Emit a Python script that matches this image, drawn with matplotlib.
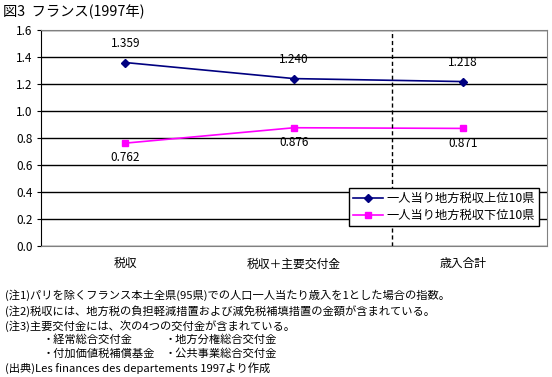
import matplotlib
matplotlib.use("Agg")
import matplotlib.pyplot as plt

plt.rcParams["font.family"] = ["Noto Sans CJK JP", "DejaVu Sans"]
plt.rcParams["axes.unicode_minus"] = False

# ---- データ ----
categories = ["税収", "税収＋主要交付金", "歳入合計"]
top10 = [1.359, 1.240, 1.218]
bottom10 = [0.762, 0.876, 0.871]
series_names = ["一人当り地方税収上位10県", "一人当り地方税収下位10県"]
yticks = [0.0, 0.2, 0.4, 0.6, 0.8, 1.0, 1.2, 1.4, 1.6]
divider_pos = 1.58

title = "図3  フランス(1997年)"
notes = [
    "(注1)パリを除くフランス本土全県(95県)での人口一人当たり歳入を1とした場合の指数。",
    "(注2)税収には、地方税の負担軽減措置および減免税補填措置の金額が含まれている。",
    "(注3)主要交付金には、次の4つの交付金が含まれている。",
]
grants_left = ["・経常総合交付金", "・付加価値税補償基金"]
grants_right = ["・地方分権総合交付金", "・公共事業総合交付金"]
source = "(出典)Les finances des departements 1997より作成"

BLUE, MAG = "#000080", "#ff00ff"
FS = 8.5
NFS = 8.1

fig = plt.figure(figsize=(5.52, 3.77), dpi=100)
W, H = 552, 377
ax = fig.add_axes([41 / W, 1 - 246 / H, 506 / W, 216 / H])

x = range(len(categories))
ax.plot(x, top10, color=BLUE, lw=1.2, marker="D", ms=4, label=series_names[0])
ax.plot(x, bottom10, color=MAG, lw=1.2, marker="s", ms=4.5, label=series_names[1])

for i, v in enumerate(top10):
    ax.annotate(f"{v:.3f}", (i, v), xytext=(0, 9), textcoords="offset points",
                ha="center", va="bottom", fontsize=FS)
for i, v in enumerate(bottom10):
    ax.annotate(f"{v:.3f}", (i, v), xytext=(0, -6), textcoords="offset points",
                ha="center", va="top", fontsize=FS)

ax.axvline(divider_pos, color="black", lw=1, ls=(0, (3, 2)))

ax.set_xlim(-0.5, 2.5)
ax.set_ylim(0, 1.6)
ax.set_yticks(yticks)
ax.set_yticklabels([f"{t:.1f}" for t in yticks], fontsize=FS)
ax.set_xticks(list(x))
ax.set_xticklabels(categories, fontsize=FS)
ax.tick_params(axis="x", length=0, pad=8)
ax.tick_params(axis="y", length=3, direction="out", pad=3)
ax.grid(axis="y", color="black", lw=1)
ax.set_axisbelow(True)
for s in ("top", "right", "bottom"):
    ax.spines[s].set_color("#808080")
ax.spines["left"].set_color("black")

lg = ax.legend(loc="lower right", bbox_to_anchor=(498 / 506, 20 / 216),
               fontsize=8.8, frameon=True, fancybox=False, framealpha=1,
               edgecolor="black", handlelength=2.5, borderpad=0.3,
               labelspacing=0.35, handletextpad=0.3, borderaxespad=0)
lg.get_frame().set_linewidth(1)

fig.text(3 / W, 1 - 12 / H, title, fontsize=10.3, va="center", ha="left")

for yy, t in zip([295, 311, 326], notes):
    fig.text(5 / W, 1 - yy / H, t, fontsize=NFS, va="center", ha="left")
for yy, l, r in zip([340, 354], grants_left, grants_right):
    fig.text(43 / W, 1 - yy / H, l, fontsize=NFS, va="center", ha="left")
    fig.text(165 / W, 1 - yy / H, r, fontsize=NFS, va="center", ha="left")
fig.text(5 / W, 1 - 368 / H, source, fontsize=NFS, va="center", ha="left")

fig.savefig("out.png", dpi=100, facecolor="white")
